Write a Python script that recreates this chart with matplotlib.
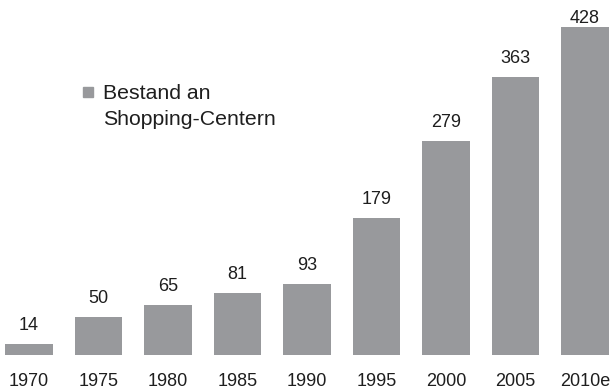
import matplotlib.pyplot as plt
from matplotlib.patches import Rectangle

years = ["1970", "1975", "1980", "1985", "1990", "1995", "2000", "2005", "2010e"]
counts = [14, 50, 65, 81, 93, 179, 279, 363, 428]

plt.rcParams['font.family'] = ['Liberation Sans', 'DejaVu Sans']

W, H = 611, 392
fig = plt.figure(figsize=(W / 100, H / 100), dpi=100)
ax = fig.add_axes([0, 37 / H, 1, 355 / H])
bar_color = "#98999c"
text_color = "#1e1e1e"

x = list(range(len(years)))
ax.bar(x, counts, width=0.69, color=bar_color)
for xi, v in zip(x, counts):
    # keep the tallest label inside the figure
    ax.text(xi, min(v + 13, 428), str(v), ha="center", va="bottom", fontsize=13, color=text_color)

ax.set_xlim(-0.417, 8.374)
ax.set_ylim(0, 463)
for s in ax.spines.values():
    s.set_visible(False)
ax.set_yticks([])
ax.set_xticks(x)
ax.set_xticklabels(years, fontsize=13, color=text_color)
ax.tick_params(axis="x", length=0, pad=13)

# legend: grey square next to the first line of a two-line label
fig.patches.append(Rectangle((83 / W, 1 - 97 / H), 10 / W, 10 / H,
                             transform=fig.transFigure, color=bar_color))
fig.text(103 / W, 1 - 99 / H, "Bestand an", fontsize=15.3, color=text_color, va="baseline")
fig.text(103 / W, 1 - 125 / H, "Shopping-Centern", fontsize=15.3, color=text_color, va="baseline")

fig.savefig("out.png", dpi=100)
